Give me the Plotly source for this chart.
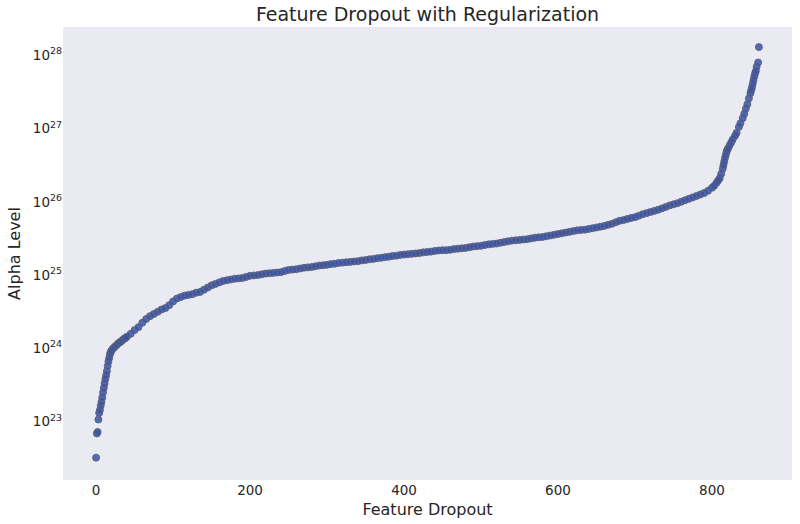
import plotly.graph_objects as go

# Feature Dropout index (x) and log10 of Alpha Level
feature_dropout = [
    0, 1, 2, 3, 4, 5, 6, 7, 8, 9, 10, 11, 12, 13, 14, 15, 16, 17, 18, 19, 20,
    22, 24, 26, 28, 30, 32, 34, 36, 38, 40,
    45, 50, 55, 60, 65, 70, 75, 80, 85, 90, 95, 100, 105, 110, 115, 120, 125,
    130, 135, 140, 145, 150, 155, 160, 165, 170, 175, 180, 185, 190, 195, 200,
    205, 210, 215, 220, 225, 230, 235, 240, 245, 250, 255, 260, 265, 270, 275,
    280, 285, 290, 295, 300, 305, 310, 315, 320, 325, 330, 335, 340, 345, 350,
    355, 360, 365, 370, 375, 380, 385, 390, 395, 400, 405, 410, 415, 420, 425,
    430, 435, 440, 445, 450, 455, 460, 465, 470, 475, 480, 485, 490, 495, 500,
    505, 510, 515, 520, 525, 530, 535, 540, 545, 550, 555, 560, 565, 570, 575,
    580, 585, 590, 595, 600, 605, 610, 615, 620, 625, 630, 635, 640, 645, 650,
    655, 660, 665, 670, 675, 680, 685, 690, 695, 700, 705, 710, 715, 720, 725,
    730, 735, 740, 745, 750, 755, 760, 765, 770, 775, 780, 785, 790, 795, 800,
    803, 806, 808, 810, 812, 814, 815, 816, 817, 818, 819, 820, 821, 823, 825,
    827, 830, 832, 835, 837, 840, 842, 844, 846, 848, 850, 851, 852, 853, 854,
    855, 856, 857, 858, 860, 861,
]

alpha_log10 = [
    22.51, 22.84, 22.86, 23.03, 23.12, 23.16, 23.22, 23.27, 23.33, 23.40, 23.46,
    23.52, 23.58, 23.63, 23.69, 23.76, 23.82, 23.87, 23.92, 23.95, 23.97,
    24.00, 24.02, 24.04, 24.06, 24.08, 24.09, 24.11, 24.13, 24.14, 24.16,
    24.20, 24.25, 24.29, 24.35, 24.40, 24.44, 24.47, 24.50, 24.53, 24.55, 24.59,
    24.64, 24.68, 24.70, 24.72, 24.73, 24.74, 24.76, 24.77, 24.80, 24.83, 24.86,
    24.88, 24.90, 24.92, 24.93, 24.94, 24.95, 24.955, 24.96, 24.975, 24.99,
    24.995, 25.00, 25.01, 25.02, 25.025, 25.03, 25.035, 25.04, 25.055, 25.07,
    25.075, 25.08, 25.09, 25.10, 25.105, 25.11, 25.12, 25.13, 25.135, 25.14,
    25.15, 25.155, 25.165, 25.17, 25.175, 25.18, 25.185, 25.19, 25.20, 25.205,
    25.215, 25.22, 25.23, 25.235, 25.245, 25.25, 25.26, 25.265, 25.275, 25.28,
    25.285, 25.29, 25.295, 25.30, 25.31, 25.315, 25.32, 25.33, 25.335, 25.34,
    25.34, 25.345, 25.355, 25.36, 25.365, 25.37, 25.38, 25.39, 25.395, 25.40,
    25.41, 25.42, 25.425, 25.43, 25.44, 25.45, 25.46, 25.47, 25.475, 25.48,
    25.485, 25.49, 25.50, 25.51, 25.515, 25.52, 25.53, 25.54, 25.55, 25.56,
    25.57, 25.58, 25.59, 25.60, 25.61, 25.615, 25.62, 25.63, 25.64, 25.65,
    25.66, 25.67, 25.685, 25.70, 25.72, 25.74, 25.75, 25.765, 25.78, 25.79,
    25.81, 25.83, 25.845, 25.86, 25.875, 25.89, 25.91, 25.93, 25.95, 25.965,
    25.98, 26.00, 26.02, 26.04, 26.06, 26.08, 26.10, 26.12, 26.15, 26.19,
    26.22, 26.26, 26.29, 26.32, 26.38, 26.45, 26.50, 26.55, 26.60, 26.64,
    26.68, 26.71, 26.73, 26.77, 26.81, 26.85, 26.90, 26.94, 27.02, 27.07,
    27.14, 27.20, 27.27, 27.33, 27.41, 27.48, 27.52, 27.56, 27.61, 27.66,
    27.71, 27.75, 27.78, 27.84, 27.90, 28.11,
]

alpha_level = [10.0 ** v for v in alpha_log10]

y_tick_exponents = [23, 24, 25, 26, 27, 28]
x_tick_values = [0, 200, 400, 600, 800]

fig = go.Figure()
fig.add_trace(go.Scatter(
    x=feature_dropout,
    y=alpha_level,
    mode="markers",
    marker=dict(size=7, color="rgba(56,82,168,0.85)",
                line=dict(color="rgba(92,98,118,0.9)", width=1)),
    showlegend=False,
))

fig.update_layout(
    width=800, height=524,
    paper_bgcolor="white",
    plot_bgcolor="#EAEAF2",
    font=dict(family="DejaVu Sans", color="#262626"),
    margin=dict(l=63, r=8, t=27, b=44, autoexpand=False),
    title=dict(text="Feature Dropout with Regularization", x=0.5, xanchor="center",
               xref="paper", yref="container", y=0.972, yanchor="middle",
               automargin=False, font=dict(size=19, color="#262626")),
    xaxis=dict(
        range=[-43, 904], showgrid=False, zeroline=False, showline=False,
        automargin=False,
        tickvals=x_tick_values, ticks="", tickfont=dict(size=13.5),
        title=dict(text="Feature Dropout", font=dict(size=16), standoff=7),
    ),
    yaxis=dict(
        type="log", range=[22.205, 28.384], showgrid=False, zeroline=False,
        showline=False, ticks="", automargin=False,
        tickvals=[10.0 ** e for e in y_tick_exponents],
        ticktext=["10<sup>%d</sup>" % e for e in y_tick_exponents],
        tickfont=dict(size=13.5),
        title=dict(text="Alpha Level", font=dict(size=16), standoff=8),
    ),
)

fig.write_html("out.html",
               config={"displayModeBar": False},
               post_script="document.body.style.margin='0';document.body.style.overflow='hidden';")
